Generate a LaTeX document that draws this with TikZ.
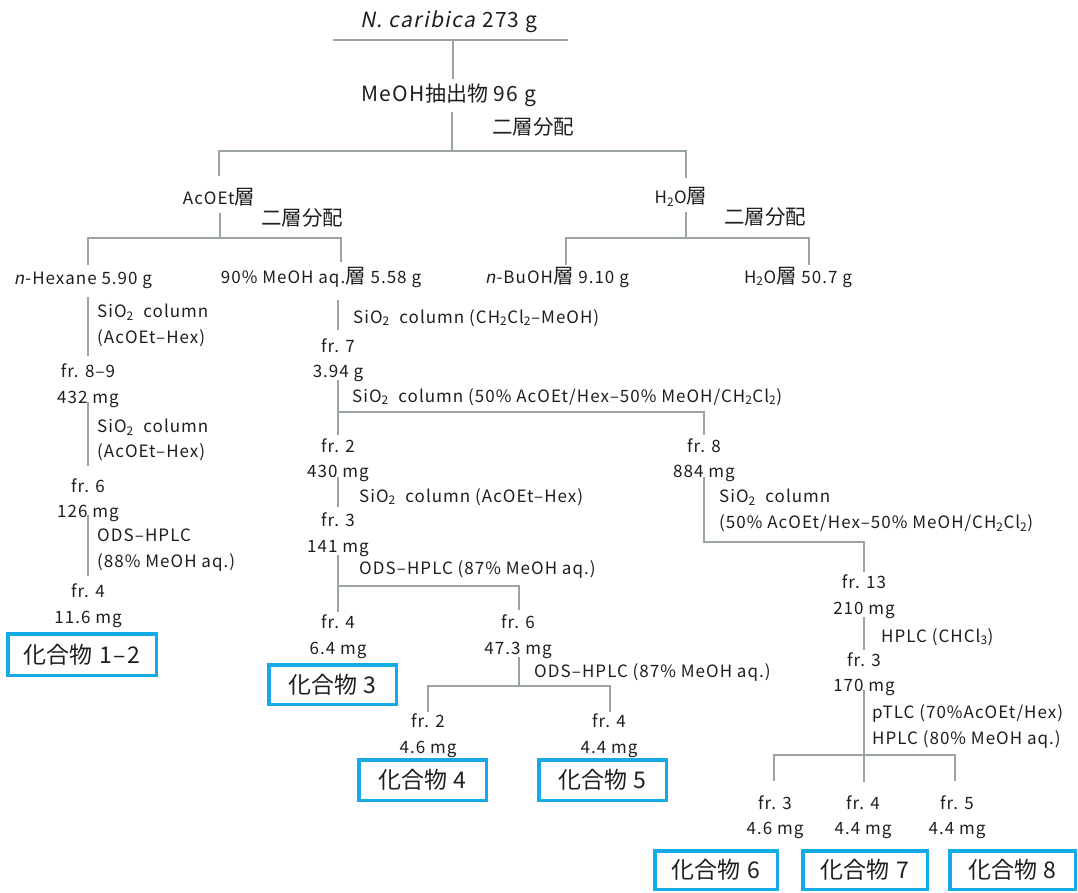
\documentclass[tikz,border=0pt]{standalone}
\usepackage{fontspec}
\setmainfont{Noto Sans CJK JP}[AutoFakeSlant=0.2,LetterSpace=6]
\newfontfamily\cjkfont{Noto Sans CJK JP}
\definecolor{linegray}{RGB}{155,163,163}
\definecolor{boxblue}{RGB}{20,170,230}
\definecolor{textc}{RGB}{30,30,30}
\newcommand{\jw}[1]{{\cjkfont\fontsize{20.5}{24}\selectfont #1}}
\newcommand{\jb}[1]{{\cjkfont #1}}
\newcommand{\sbs}[1]{\textsubscript{#1}}
\begin{document}
\begin{tikzpicture}[x=1pt,y=-1pt,
 ln/.style={draw=linegray,line width=1.3pt},
 txt/.style={inner sep=0pt,align=center,text=textc,font=\fontsize{17}{25.5}\selectfont},
 ctxt/.style={txt,align=left,anchor=west},
 big/.style={txt,font=\fontsize{21}{25}\selectfont},
 cbox/.style={draw=boxblue,line width=3.5pt,inner sep=0pt,text=textc,font=\fontsize{23}{27}\selectfont},
]
\useasboundingbox (0,0) rectangle (1078,893);

% ---------- top ----------
\node[big] (src) at (449,22) {\textit{N. caribica} 273 g};
\node[big] (ext) at (449,95) {MeOH\jb{抽出物} 96 g};
\node[txt] (p1) at (533,127) {\jw{二層分配}};
\node[txt] (ac) at (219,197) {AcOEt\jw{層}};
\node[txt] (wa) at (681,197) {H\sbs{2}O\jw{層}};
\node[txt] (p2) at (302,218) {\jw{二層分配}};
\node[txt] (p3) at (765,217) {\jw{二層分配}};
\node[txt] (hx) at (83,280) {\textit{n}-Hexane 5.90 g};
\node[txt] (mq) at (321,277) {90\% MeOH aq.\jw{層} 5.58 g};
\node[txt] (bu) at (557,277) {\textit{n}-BuOH\jw{層} 9.10 g};
\node[txt] (wb) at (798,277) {H\sbs{2}O\jw{層} 50.7 g};

\path (333,40) coordinate (t1) (568,40) coordinate (t2) (453,40) coordinate (t3) (453,79) coordinate (t4)
      (452,112) coordinate (e1) (452,151) coordinate (e2)
      (219,151) coordinate (b1l) (686,151) coordinate (b1r) (219,176) coordinate (b1a) (686,178) coordinate (b1b)
      (220,213) coordinate (a1) (220,238) coordinate (a2)
      (88,238) coordinate (b2l) (341,238) coordinate (b2r) (88,265) coordinate (b2a) (341,262) coordinate (b2b)
      (686,212) coordinate (w1) (686,238) coordinate (w2)
      (566,238) coordinate (b3l) (809,238) coordinate (b3r) (566,265) coordinate (b3a) (809,265) coordinate (b3b);
\draw[ln] (t1) -- (t2);
\draw[ln] (t3) -- (t4);
\draw[ln] (e1) -- (e2);
\draw[ln] (b1a) -- (b1l) -- (b1r) -- (b1b);
\draw[ln] (a1) -- (a2);
\draw[ln] (b2a) -- (b2l) -- (b2r) -- (b2b);
\draw[ln] (w1) -- (w2);
\draw[ln] (b3a) -- (b3l) -- (b3r) -- (b3b);

% ---------- left column ----------
\node[ctxt] (s1) at (97,325.5) {SiO\sbs{2}\ \ column\\(AcOEt–Hex)};
\node[txt] (f89) at (88,385.5) {fr. 8–9\\432 mg};
\node[ctxt] (s2) at (97,440) {SiO\sbs{2}\ \ column\\(AcOEt–Hex)};
\node[txt] (f6a) at (88,500) {fr. 6\\126 mg};
\node[ctxt] (s3) at (97,550) {ODS–HPLC\\(88\% MeOH aq.)};
\node[txt] (f4a) at (88,605.5) {fr. 4\\11.6 mg};
\node[cbox,minimum width=148.5pt,minimum height=41.5pt] (c12) at (82,654.5) {\jb{化合物} 1–2};

\path (88,297) coordinate (h1) (88,356) coordinate (h2)
      (88,402) coordinate (h3) (88,466) coordinate (h4)
      (88,515) coordinate (h5) (88,576) coordinate (h6);
\draw[ln] (h1) -- (h2);
\draw[ln] (h3) -- (h4);
\draw[ln] (h5) -- (h6);

% ---------- middle column ----------
\node[ctxt] (s4) at (353,318) {SiO\sbs{2}\ \ column (CH\sbs{2}Cl\sbs{2}–MeOH)};
\node[txt] (f7) at (338,360) {fr. 7\\3.94 g};
\node[ctxt] (s5) at (352,397) {SiO\sbs{2}\ \ column (50\% AcOEt/Hex–50\% MeOH/CH\sbs{2}Cl\sbs{2})};
\node[txt] (f2a) at (338,460) {fr. 2\\430 mg};
\node[ctxt] (s6) at (359,497) {SiO\sbs{2}\ \ column (AcOEt–Hex)};
\node[txt] (f3a) at (338,534.5) {fr. 3\\141 mg};
\node[ctxt] (s7) at (359,569) {ODS–HPLC (87\% MeOH aq.)};
\node[txt] (f4b) at (338,636.5) {fr. 4\\6.4 mg};
\node[cbox,minimum width=127.5pt,minimum height=39.5pt] (c3) at (332.5,684.5) {\jb{化合物} 3};
\node[txt] (f6b) at (518,636.5) {fr. 6\\47.3 mg};
\node[ctxt] (s8) at (534,672) {ODS–HPLC (87\% MeOH aq.)};
\node[txt] (f2b) at (428,735.5) {fr. 2\\4.6 mg};
\node[txt] (f4c) at (609,735.5) {fr. 4\\4.4 mg};
\node[cbox,minimum width=127.5pt,minimum height=40.5pt] (c4) at (422.5,780) {\jb{化合物} 4};
\node[cbox,minimum width=127.5pt,minimum height=40.5pt] (c5) at (602.5,780) {\jb{化合物} 5};

\path (338,300) coordinate (m1) (338,330) coordinate (m2)
      (338,380) coordinate (m3) (338,435) coordinate (m4)
      (338,412) coordinate (b4l) (704,412) coordinate (b4r) (704,435) coordinate (b4b)
      (338,477) coordinate (m5) (338,507) coordinate (m6)
      (338,555) coordinate (m7) (338,612) coordinate (m8)
      (338,586) coordinate (b5l) (519,586) coordinate (b5r) (519,610) coordinate (b5b)
      (519,657) coordinate (m9) (519,686) coordinate (m10)
      (428,686) coordinate (b6l) (610,686) coordinate (b6r) (428,712) coordinate (b6a) (610,712) coordinate (b6b);
\draw[ln] (m1) -- (m2);
\draw[ln] (m3) -- (m4);
\draw[ln] (b4l) -- (b4r) -- (b4b);
\draw[ln] (m5) -- (m6);
\draw[ln] (m7) -- (m8);
\draw[ln] (b5l) -- (b5r) -- (b5b);
\draw[ln] (m9) -- (m10);
\draw[ln] (b6a) -- (b6l) -- (b6r) -- (b6b);

% ---------- right column ----------
\node[txt] (f8) at (704,460) {fr. 8\\884 mg};
\node[ctxt] (s9) at (719,510.5) {SiO\sbs{2}\ \ column\\(50\% AcOEt/Hex–50\% MeOH/CH\sbs{2}Cl\sbs{2})};
\node[txt] (f13) at (864,596.5) {fr. 13\\210 mg};
\node[ctxt] (s10) at (881,637) {HPLC (CHCl\sbs{3})};
\node[txt] (f3b) at (864,674) {fr. 3\\170 mg};
\node[ctxt] (s11) at (872,726.5) {pTLC (70\%AcOEt/Hex)\\HPLC (80\% MeOH aq.)};
\node[txt] (f3c) at (775,817) {fr. 3\\4.6 mg};
\node[txt] (f4d) at (863,817) {fr. 4\\4.4 mg};
\node[txt] (f5) at (957,817) {fr. 5\\4.4 mg};
\node[cbox,minimum width=122.5pt,minimum height=38.5pt] (c6) at (716,870) {\jb{化合物} 6};
\node[cbox,minimum width=124.5pt,minimum height=38.5pt] (c7) at (865,870) {\jb{化合物} 7};
\node[cbox,minimum width=125.5pt,minimum height=38.5pt] (c8) at (1012.5,870) {\jb{化合物} 8};

\path (704,477) coordinate (r1) (704,542) coordinate (r2) (864,542) coordinate (r3) (864,572) coordinate (r4)
      (864,617) coordinate (r5) (864,650) coordinate (r6)
      (864,690) coordinate (r7) (864,782) coordinate (r8)
      (774,755) coordinate (b7l) (955,755) coordinate (b7r) (774,781) coordinate (b7a) (955,781) coordinate (b7b);
\draw[ln] (r1) -- (r2) -- (r3) -- (r4);
\draw[ln] (r5) -- (r6);
\draw[ln] (r7) -- (r8);
\draw[ln] (b7a) -- (b7l) -- (b7r) -- (b7b);
\end{tikzpicture}
\end{document}
